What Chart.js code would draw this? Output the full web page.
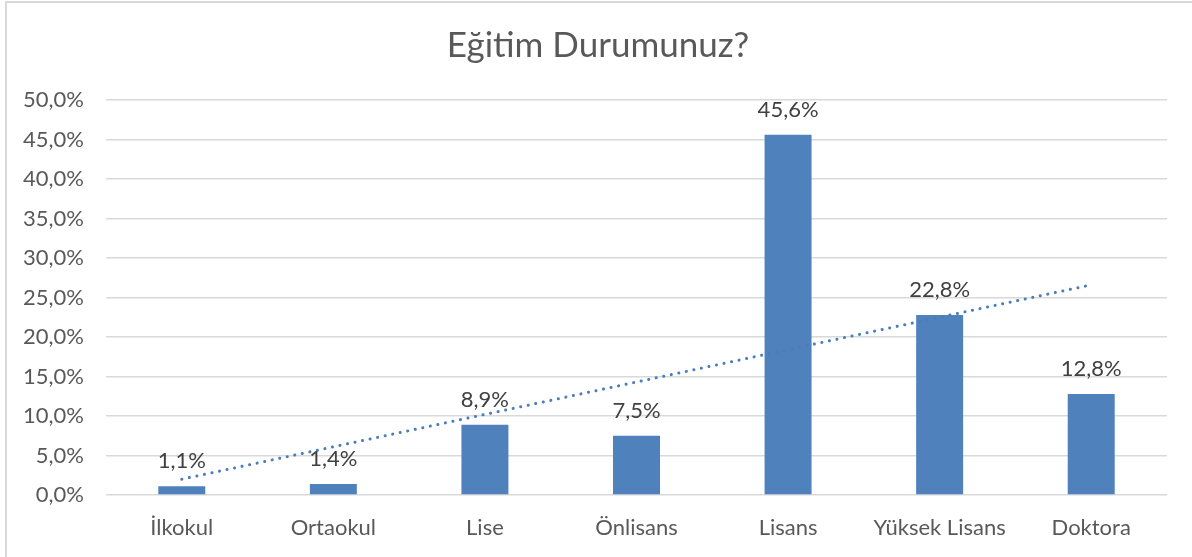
<!DOCTYPE html>
<html><head><meta charset="utf-8">
<script src="https://cdn.jsdelivr.net/npm/chart.js@4"></script>
<style>
html,body{margin:0;padding:0;background:#fff;overflow:hidden}
#wrap{position:absolute;left:0;top:0;width:1192px;height:557px}
#frame{position:absolute;left:5px;top:1px;width:1200px;height:600px;border-left:2px solid #D9D9D9;border-top:2px solid #D9D9D9;box-sizing:border-box}
canvas{position:absolute;left:0;top:0}
</style></head><body>
<div id="wrap"><div id="frame"></div><canvas id="c" width="1192" height="557"></canvas></div>
<script>
const categories = ['İlkokul','Ortaokul','Lise','Önlisans','Lisans','Yüksek Lisans','Doktora'];
const percentages = [1.1, 1.4, 8.9, 7.5, 45.6, 22.8, 12.8];
const trendValues = [2.0, 6.1, 10.2, 14.3, 18.4, 22.5, 26.6];
const yTicks = [0,5,10,15,20,25,30,35,40,45,50];
const titleText = 'Eğitim Durumunuz?';

const FONT = 'Lato, "Liberation Sans", sans-serif';
const fmt = v => v.toFixed(1).replace('.', ',') + '%';

const labelPlugin = {
  id: 'barLabels',
  afterDatasetsDraw(chart) {
    const ctx = chart.ctx;
    const meta = chart.getDatasetMeta(1);
    ctx.save();
    ctx.fillStyle = '#404040';
    ctx.font = '22px ' + FONT;
    ctx.textAlign = 'center';
    ctx.textBaseline = 'alphabetic';
    meta.data.forEach((bar, i) => {
      ctx.fillText(fmt(percentages[i]), bar.x, bar.y - 18);
    });
    ctx.fillStyle = '#595959';
    ctx.font = '35px ' + FONT;
    ctx.fillText(titleText, 598, 57);
    ctx.restore();
  }
};

new Chart(document.getElementById('c'), {
  data: {
    labels: categories,
    datasets: [
      {
        type: 'line',
        data: trendValues,
        borderColor: '#4A7EBB',
        borderWidth: 3,
        borderDash: [0.1, 7.6],
        borderCapStyle: 'round',
        pointRadius: 0,
        fill: false,
        tension: 0,
        order: 0
      },
      {
        type: 'bar',
        data: percentages,
        backgroundColor: '#4F81BD',
        categoryPercentage: 1,
        barPercentage: 0.31,
        order: 1
      }
    ]
  },
  options: {
    responsive: false,
    animation: false,
    devicePixelRatio: 1,
    layout: { padding: { left: 6, right: 25, top: 100, bottom: 0 } },
    plugins: {
      legend: { display: false },
      tooltip: { enabled: false },
      title: { display: false }
    },
    scales: {
      x: {
        grid: { display: false },
        border: { display: false },
        ticks: { color: '#595959', font: { family: FONT, size: 22 }, padding: 12, maxRotation: 0 },
        afterFit: s => { s.height = 62; }
      },
      y: {
        min: 0, max: 50,
        afterBuildTicks: s => { s.ticks = yTicks.map(v => ({ value: v })); },
        grid: { color: '#D9D9D9', lineWidth: 1.6, drawTicks: false },
        border: { display: false },
        ticks: { color: '#595959', font: { family: FONT, size: 22 }, padding: 22, callback: v => fmt(v) },
        afterFit: s => { s.width = 100; }
      }
    }
  },
  plugins: [labelPlugin]
});
</script>
</body></html>
